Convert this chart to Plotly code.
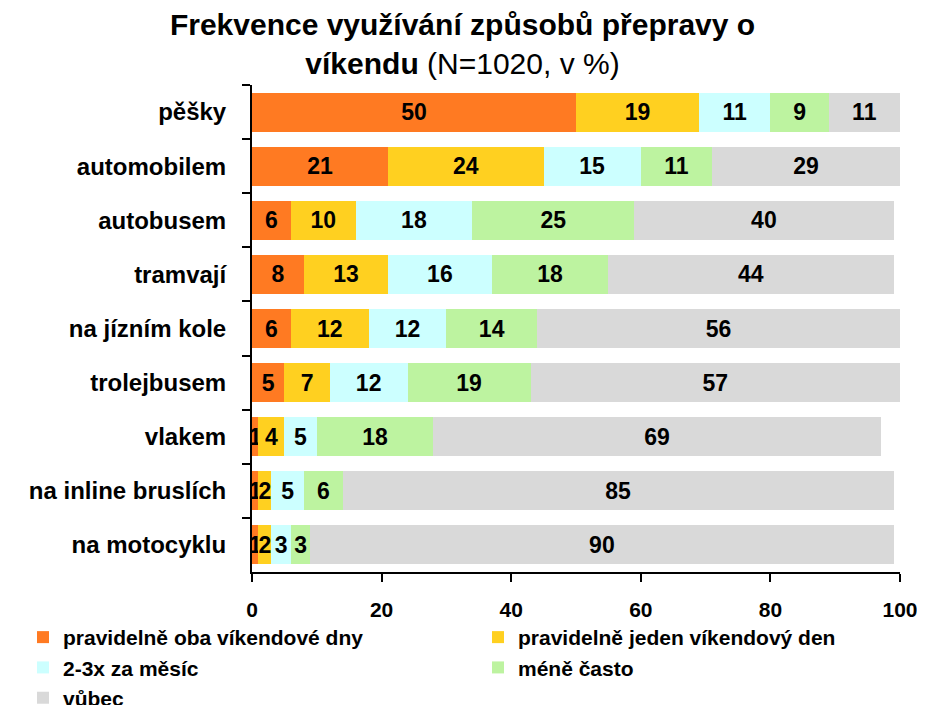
import plotly.graph_objects as go

categories = ["pěšky", "automobilem", "autobusem", "tramvají", "na jízním kole",
              "trolejbusem", "vlakem", "na inline bruslích", "na motocyklu"]
series_names = ["pravidelně oba víkendové dny", "pravidelně jeden víkendový den",
                "2-3x za měsíc", "méně často", "vůbec"]
oba_dny = [50, 21, 6, 8, 6, 5, 1, 1, 1]
jeden_den = [19, 24, 10, 13, 12, 7, 4, 2, 2]
za_mesic = [11, 15, 18, 16, 12, 12, 5, 5, 3]
mene_casto = [9, 11, 25, 18, 14, 19, 18, 6, 3]
vubec = [11, 29, 40, 44, 56, 57, 69, 85, 90]
x_ticks = [0, 20, 40, 60, 80, 100]

series_values = [oba_dny, jeden_den, za_mesic, mene_casto, vubec]
colors = ["#FF7A22", "#FFD020", "#CCFFFF", "#BDF3A0", "#D9D9D9"]
legend_ids = ["legend", "legend2", "legend", "legend2", "legend"]

FONT = "Liberation Sans, Arial, sans-serif"

fig = go.Figure()
for name, vals, col, lg in zip(series_names, series_values, colors, legend_ids):
    fig.add_trace(go.Bar(
        y=categories, x=vals, name=name, orientation="h",
        marker=dict(color=col, line=dict(width=0)),
        text=[str(v) for v in vals], textposition="inside",
        insidetextanchor="middle", textangle=0,
        textfont=dict(family=FONT, size=23, color="black", weight="bold"),
        hoverinfo="skip", legend=lg,
    ))

W, H = 909, 697
legend_font = dict(family=FONT, size=21, weight="bold", color="black")

fig.update_layout(
    barmode="stack",
    bargap=0.28,
    width=W, height=H,
    margin=dict(l=244, r=17, t=77, b=133, autoexpand=False),
    paper_bgcolor="white", plot_bgcolor="white",
    font=dict(family=FONT, color="black"),
    uniformtext=dict(mode="show", minsize=23),
    title=dict(
        text="<b>Frekvence využívání způsobů přepravy o<br>víkendu</b> (N=1020, v %)",
        x=0.5, xref="container", xanchor="center",
        y=0.9607, yref="container", yanchor="middle",
        font=dict(family=FONT, size=30, color="black"),
    ),
    xaxis=dict(
        range=[0, 100], tickvals=x_ticks, ticktext=[str(t) for t in x_ticks],
        showgrid=False, zeroline=False, automargin=False,
        showline=True, linecolor="black", linewidth=2,
        ticks="outside", ticklen=8, tickwidth=2, tickcolor="black",
        ticklabelstandoff=10, ticklabeloverflow="allow",
        tickfont=dict(family=FONT, size=21, weight="bold"),
    ),
    yaxis=dict(
        categoryorder="array", categoryarray=categories, autorange="reversed",
        showgrid=False, zeroline=False, automargin=False,
        showline=True, linecolor="black", linewidth=2,
        ticks="outside", ticklen=8, tickwidth=2, tickcolor="black",
        tickson="boundaries", ticklabelstandoff=19,
        tickfont=dict(family=FONT, size=24, weight="bold"),
    ),
    legend=dict(
        orientation="v", traceorder="normal",
        xref="container", yref="container",
        x=15 / W, y=0.1263, xanchor="left", yanchor="top",
        font=legend_font, bgcolor="rgba(0,0,0,0)",
        itemclick=False, itemdoubleclick=False,
    ),
    legend2=dict(
        orientation="v", traceorder="normal",
        xref="container", yref="container",
        x=470 / W, y=0.1263, xanchor="left", yanchor="top",
        font=legend_font, bgcolor="rgba(0,0,0,0)",
        itemclick=False, itemdoubleclick=False,
    ),
    showlegend=True,
)

fig.write_html("out.html")
